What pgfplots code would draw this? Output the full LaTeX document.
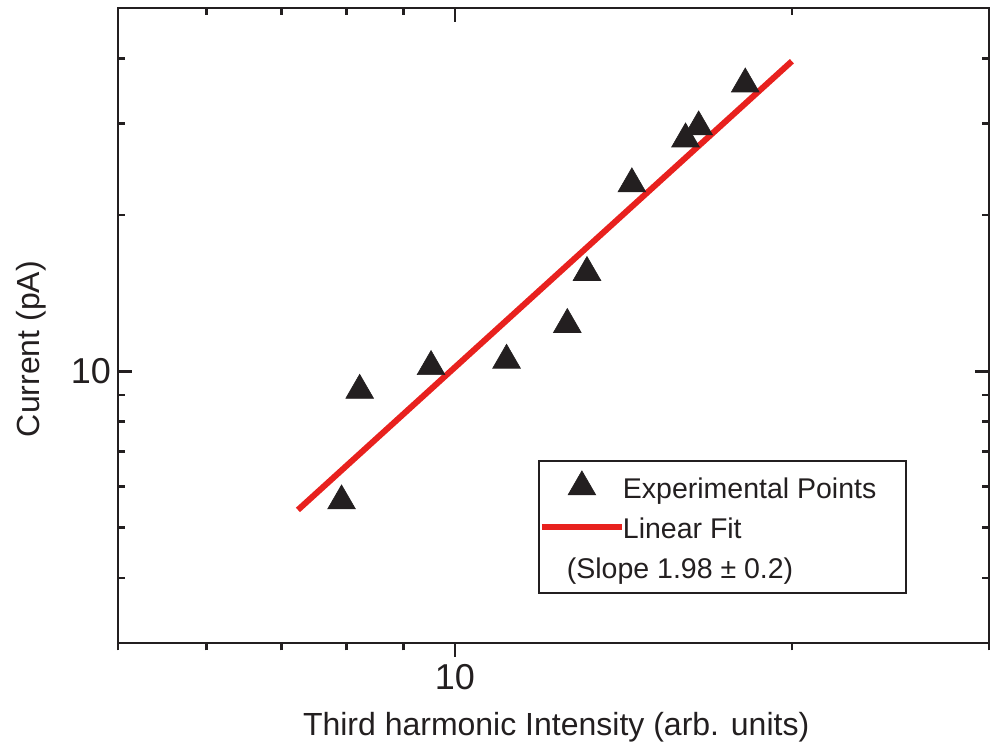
\documentclass[border=0pt]{standalone}
\usepackage{pgfplots}
\pgfplotsset{compat=1.18}
\usepackage{fontspec}
\setmainfont{Liberation Sans}
\definecolor{ink}{HTML}{231F20}
\definecolor{fitred}{HTML}{E8211E}
\pgfplotsset{
  every axis/.append style={
    xmode=log, ymode=log,
    scale only axis, width=435.5bp, height=317.5bp,
    xmin=5, xmax=30, ymin=3, ymax=50,
    axis line style={ink, line width=1.3bp},
    every tick/.style={ink, line width=1.3bp},
    major tick length=7bp, minor tick length=3.75bp,
    tick label style={font=\fontsize{18bp}{21bp}\selectfont, text=ink},
  },
  trilegend/.style={legend image code/.code={\draw[mark repeat=2,mark phase=2,##1] plot coordinates {(0bp,0bp) (20bp,0bp) (40bp,0bp)};}},
  linelegend/.style={legend image code/.code={\draw[##1] (0bp,0bp) -- (40bp,0bp);}},
}
\begin{document}
\begin{tikzpicture}
\begin{axis}[
  xtick={10}, xticklabels={10},
  minor xtick={5,6,7,8,9,20,30},
  ytick={10}, yticklabels={10},
  minor ytick={3,4,5,6,7,8,9,20,30,40,50},
  xtick pos=left, ytick pos=both,
  xtick align=outside, ytick align=inside,
  xlabel={Third harmonic Intensity (arb. units)},
  ylabel={Current (pA)},
  label style={font=\fontsize{16bp}{19bp}\selectfont, text=ink},
  xlabel style={at={(rel axis cs:0.503,-0.1449)}, anchor=base},
  ylabel style={at={(rel axis cs:-0.0999,0.463)}, anchor=center},
  legend cell align=left,
  legend style={at={(rel axis cs:0.4822,0.2882)}, anchor=north west,
    draw=ink, line width=0.9bp, inner xsep=0pt, inner ysep=5bp,
    font=\fontsize{14.25bp}{17bp}\selectfont, text=ink,
    nodes={inner sep=0pt, text height=14bp, text depth=2bp},
    row sep=4bp, column sep=-1bp},
]
\addplot[only marks, mark=triangle*, mark size=8bp, color=ink,
  mark options={draw=ink, fill=ink, line width=0.3bp}, trilegend]
coordinates {
(7.92,5.63) (8.22,9.19) (9.52,10.21) (11.12,10.50) (12.60,12.30)
(13.12,15.49) (14.39,22.94) (16.07,27.99) (16.51,29.52) (18.17,35.71)
};
\addlegendentry{Experimental Points\hspace*{15bp}}
\addplot[fitred, line width=3bp, no marks, linelegend]
coordinates {(7.24,5.41) (20,39.5)};
\addlegendentry{Linear Fit}
\addlegendimage{empty legend}
\addlegendentry{\hspace*{-28bp}(Slope 1.98 ± 0.2)}
\end{axis}
\begin{axis}[
  xtick={10}, xticklabels={},
  minor xtick={5,6,7,8,9,20,30},
  ytick=\empty, minor ytick={},
  xtick pos=right, xtick align=inside,
]
\end{axis}
\pgfresetboundingbox
\path[use as bounding box] (-59bp,-50.5bp) rectangle (436bp,321.5bp);
\end{tikzpicture}
\end{document}
